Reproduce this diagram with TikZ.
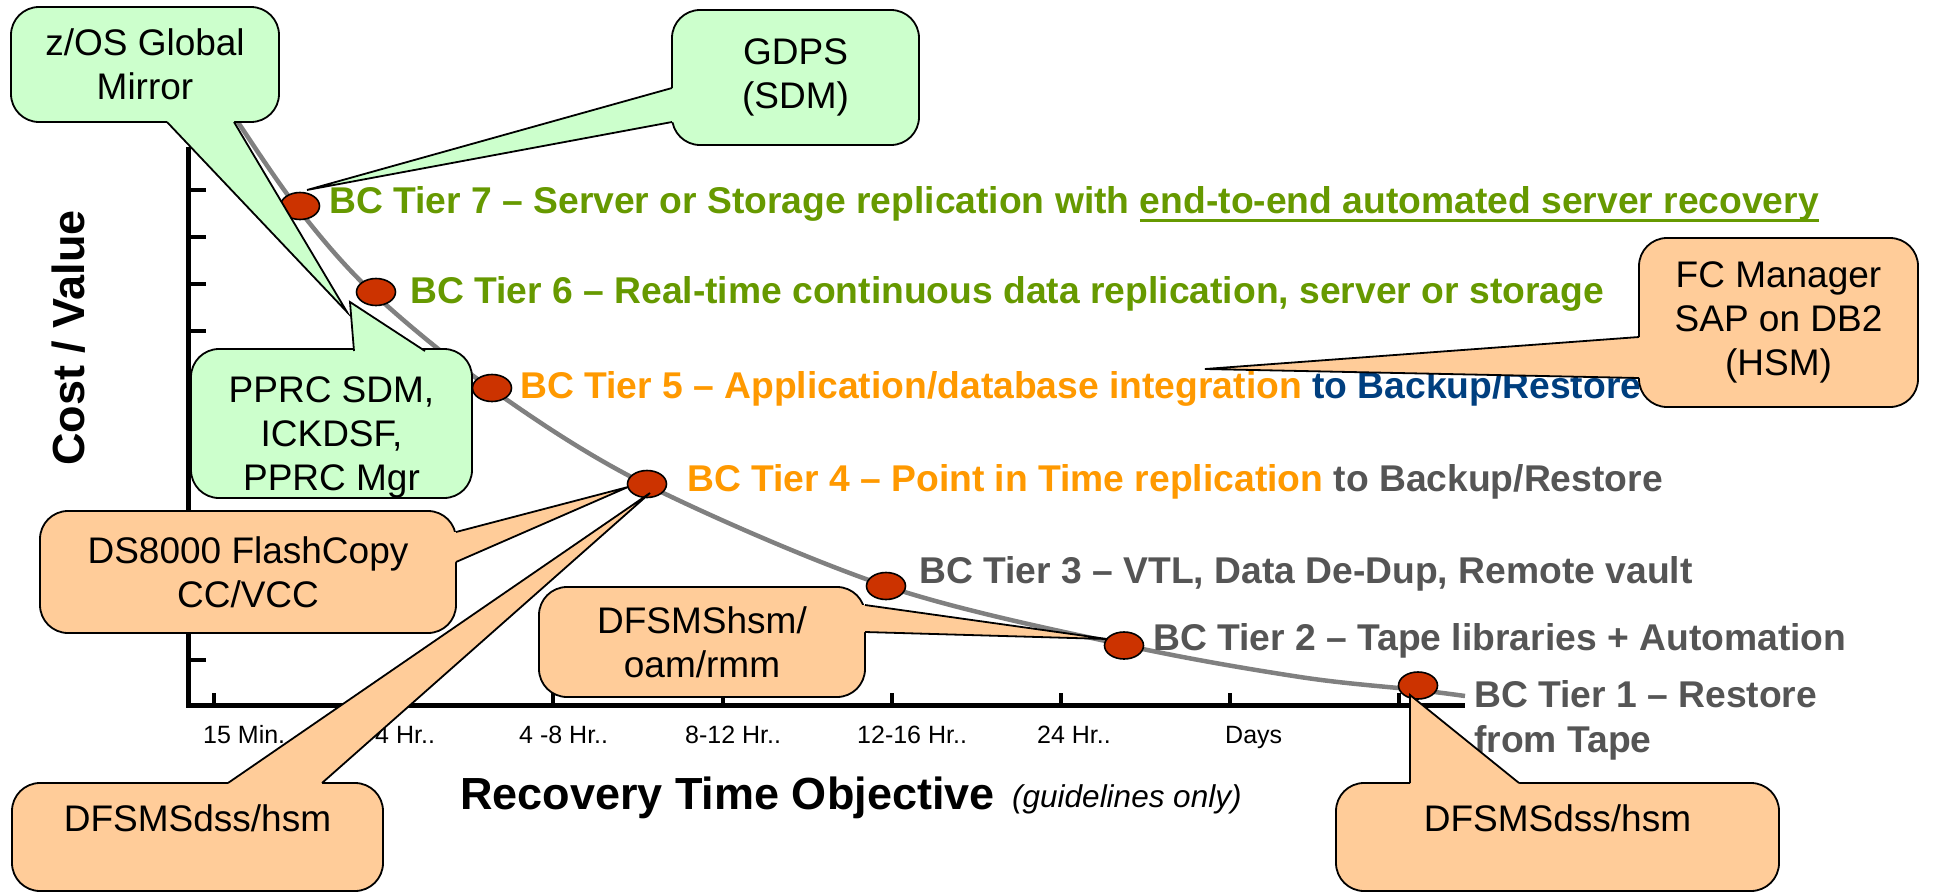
\documentclass[tikz,border=0pt]{standalone}
\usepackage{fontspec}
\setmainfont{Liberation Sans}
\usetikzlibrary{shapes.geometric,calc}
\definecolor{cgreen}{HTML}{CCFFCC}
\definecolor{corange}{HTML}{FFCC99}
\definecolor{dotred}{HTML}{CC3300}
\definecolor{tgreen}{HTML}{669900}
\definecolor{torange}{HTML}{FF9900}
\definecolor{tblue}{HTML}{003F7F}
\definecolor{tgray}{HTML}{555555}
\definecolor{curvegray}{HTML}{808080}
\newsavebox\ulbox
\newcommand\myul[1]{\sbox\ulbox{#1}\rlap{\rule[-8.5pt]{\wd\ulbox}{3pt}}\usebox\ulbox}
\newcommand\ptr[5]{%
  \fill[#1] (#2) -- (#3) -- (#4) -- ($(#4)+#5$) -- ($(#2)+#5$) -- cycle;
  \draw[callline] (#2) -- (#3) -- (#4);}
\begin{document}
\begin{tikzpicture}[x=1pt,y=-1pt,
  axisline/.style={line width=5pt,black},
  tickline/.style={line width=4pt,black},
  curveline/.style={line width=4.5pt,curvegray},
  dot/.style={ellipse,draw=black,line width=1.6pt,fill=dotred,minimum width=39pt,minimum height=27pt,inner sep=0pt},
  callline/.style={draw=black,line width=1.8pt},
  cbox/.style={callline,rounded corners=28pt,inner sep=0pt,align=center,font=\fontsize{37}{44}\selectfont},
  gbox/.style={cbox,fill=cgreen},
  obox/.style={cbox,fill=corange},
  tier/.style={anchor=base west,inner sep=0pt,font=\fontsize{37.25}{45}\selectfont\bfseries},
  xlab/.style={anchor=base west,inner sep=0pt,font=\fontsize{25}{30}\selectfont},
  axtitle/.style={inner sep=0pt,font=\fontsize{45}{54}\selectfont\bfseries}]
\useasboundingbox (0,0) rectangle (1933,894);
% axes
\draw[axisline] (188,147) -- (188,708);
\draw[axisline] (186,705) -- (1465,705);
\foreach \yy in {190,237,284,331,378,425,472,519,566,613,660}
  \draw[tickline] (188,\yy) -- (206,\yy);
\foreach \xx in {214,383.5,553,722.5,892,1061,1230,1399}
  \draw[tickline] (\xx,705) -- (\xx,693);
% curve
\draw[curveline] plot[smooth,tension=0.55] coordinates {(230,110) (296,206) (372,292) (490,388) (645,484) (886,586) (1124,645) (1300,677) (1418,690) (1465,696)};
% dots
\node[dot] (d7) at (300,206) {};
\node[dot] (d6) at (376,292) {};
\node[dot] (d5) at (492,388) {};
\node[dot] (d4) at (647,484) {};
\node[dot] (d3) at (886,586) {};
\node[dot] (d2) at (1124,645.5) {};
\node[dot] (d1) at (1418,685.5) {};
% tier labels
\node[tier,text=tgreen] (t7) at (329,213) {BC Tier 7 – Server or Storage replication with \myul{end-to-end automated server recovery}};
\node[tier,text=tgreen] (t6) at (410,303) {BC Tier 6 – Real-time continuous data replication, server or storage};
\node[tier,text=torange] (t5) at (520,398) {BC Tier 5 – Application/database integration {\color{tblue}to Backup/Restore}};
\node[tier,text=torange] (t4) at (687,491) {BC Tier 4 – Point in Time replication {\color{tgray}to Backup/Restore}};
\node[tier,text=tgray] (t3) at (919,583) {BC Tier 3 – VTL, Data De-Dup, Remote vault};
\node[tier,text=tgray] (t2) at (1153,650) {BC Tier 2 – Tape libraries + Automation};
\node[tier,text=tgray,align=left] (t1) at (1474,752) {BC Tier 1 – Restore\\from Tape};
% x labels
\node[xlab] (x1) at (203,743) {15 Min.};
\node[xlab] (x2) at (375,743) {4 Hr..};
\node[xlab] (x3) at (519,743) {4 -8 Hr..};
\node[xlab] (x4) at (685,743) {8-12 Hr..};
\node[xlab] (x5) at (857,743) {12-16 Hr..};
\node[xlab] (x6) at (1037,743) {24 Hr..};
\node[xlab] (x7) at (1225,743) {Days};
% axis titles
\node[axtitle,anchor=base west] (xt) at (460,809) {Recovery Time Objective};
\node[inner sep=0pt,anchor=base west,font=\fontsize{31.5}{36}\selectfont\itshape] (xg) at (1012,807) {(guidelines only)};
\node[axtitle,anchor=base,rotate=90] (yt) at (84,338) {Cost / Value};
% callouts
\node[gbox,minimum width=268pt,minimum height=115pt] (zos) at (145,64.5) {z/OS Global\\Mirror};
\coordinate (zosA) at (167,122); \coordinate (zosT) at (347,312); \coordinate (zosB) at (234,122);
\ptr{cgreen}{zosA}{zosT}{zosB}{(0,-3)}
\node[gbox,minimum width=247pt,minimum height=135pt] (gdps) at (795.5,77.5) {GDPS\\(SDM)};
\coordinate (gdpsA) at (672,88); \coordinate (gdpsT) at (307,190); \coordinate (gdpsB) at (672,122);
\ptr{cgreen}{gdpsA}{gdpsT}{gdpsB}{(3,0)}
\node[gbox,minimum width=281pt,minimum height=145pt,text height=141pt,text depth=8pt] (pprc) at (331.5,423.5) {PPRC SDM,\\ICKDSF,\\PPRC Mgr};
\coordinate (pprcA) at (354,351); \coordinate (pprcT) at (350,302); \coordinate (pprcB) at (425,351);
\ptr{cgreen}{pprcA}{pprcT}{pprcB}{(0,3)}
\node[obox,minimum width=279pt,minimum height=169pt] (fc) at (1778.5,322.5) {FC Manager\\SAP on DB2\\(HSM)};
\coordinate (fcA) at (1639,337); \coordinate (fcT) at (1205,369); \coordinate (fcB) at (1639,378);
\ptr{corange}{fcA}{fcT}{fcB}{(3,0)}
\node[obox,minimum width=416pt,minimum height=122pt] (ds) at (248,572) {DS8000 FlashCopy\\CC/VCC};
\coordinate (dsA) at (456,532); \coordinate (dsT) at (628,487); \coordinate (dsB) at (456,562);
\ptr{corange}{dsA}{dsT}{dsB}{(-3,0)}
\node[obox,minimum width=371pt,minimum height=108pt,text height=27pt,text depth=38pt] (dssl) at (197.5,837) {DFSMSdss/hsm};
\coordinate (dsslA) at (228,783); \coordinate (dsslT) at (650,493); \coordinate (dsslB) at (322,783);
\ptr{corange}{dsslA}{dsslT}{dsslB}{(0,3)}
\node[obox,minimum width=326pt,minimum height=110pt] (hsm) at (702,642) {DFSMShsm/\\oam/rmm};
\coordinate (hsmA) at (865,605); \coordinate (hsmT) at (1107,639); \coordinate (hsmB) at (865,632);
\ptr{corange}{hsmA}{hsmT}{hsmB}{(-3,0)}
\node[obox,minimum width=443pt,minimum height=108pt,text height=27pt,text depth=38pt] (dssr) at (1557.5,837) {DFSMSdss/hsm};
\coordinate (dssrA) at (1410,783); \coordinate (dssrT) at (1410,695); \coordinate (dssrB) at (1519,783);
\ptr{corange}{dssrA}{dssrT}{dssrB}{(0,3)}
\end{tikzpicture}
\end{document}
